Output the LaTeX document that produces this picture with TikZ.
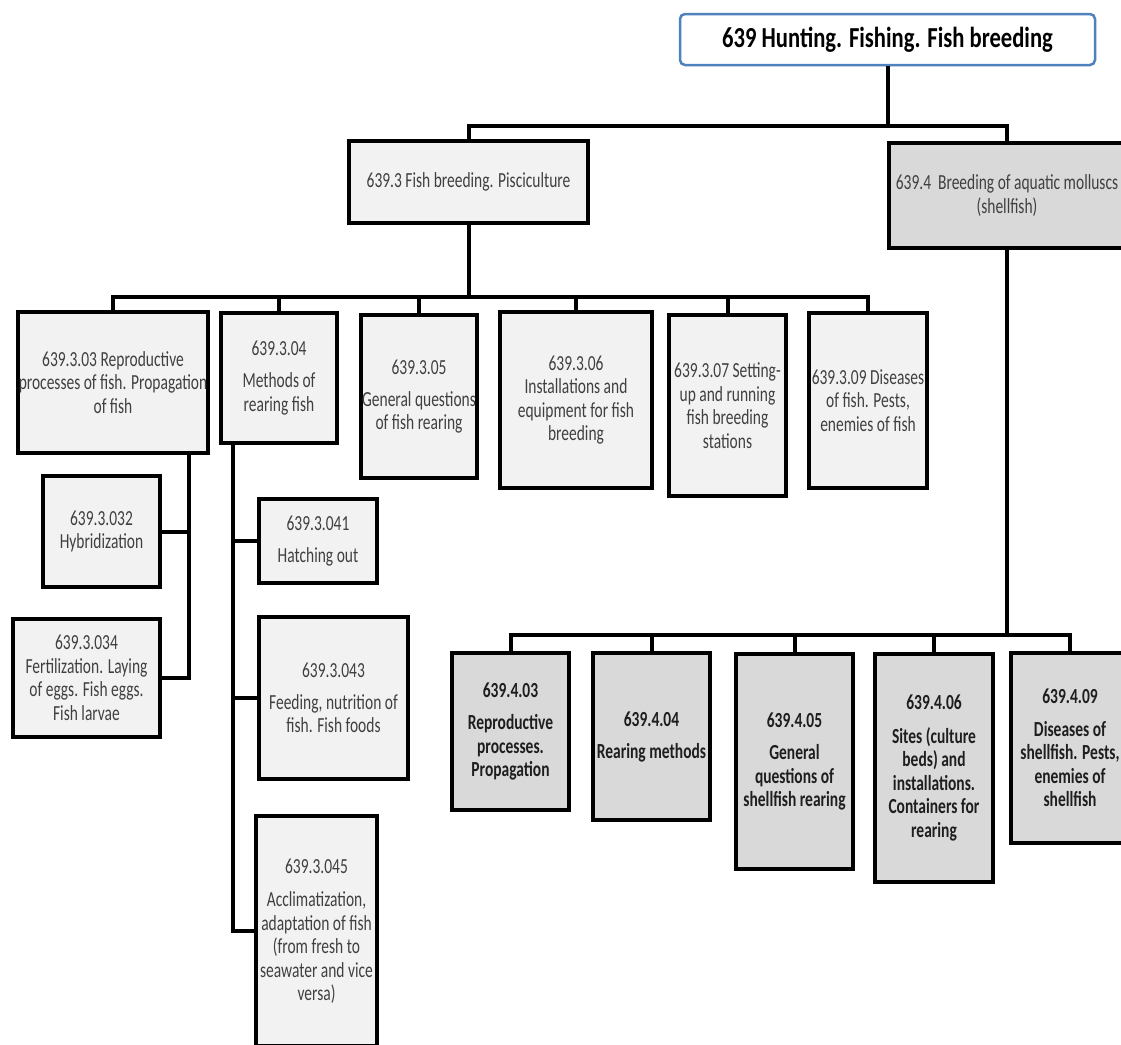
\documentclass[tikz,border=0pt]{standalone}
\usepackage{fontspec}
\setmainfont{Carlito}[FakeStretch=0.72]
\newfontfamily\rootfont{Carlito}[FakeStretch=0.78]
\definecolor{lightfill}{HTML}{F2F2F2}
\definecolor{darkfill}{HTML}{D9D9D9}
\definecolor{txtgray}{HTML}{404040}
\definecolor{txtdark}{HTML}{1E1E1E}
\definecolor{rootblue}{HTML}{4F81BD}
\begin{document}
\begin{tikzpicture}[x=1pt,y=-1pt,
  box/.style={draw=black,line width=4pt,fill=lightfill,inner sep=0pt,align=center,text=txtgray,font=\fontsize{21.5}{23.5}\selectfont},
  sbox/.style={box,fill=darkfill,text=txtdark,font=\bfseries\fontsize{21.5}{23.5}\selectfont},
  rootbox/.style={draw=rootblue,line width=2.5pt,fill=white,rounded corners=5pt,inner sep=0pt,text=black,font=\rootfont\bfseries\fontsize{29}{32}\selectfont},
  conn/.style={draw=black,line width=4pt}]
\useasboundingbox (0,0) rectangle (1121,1044);
\clip (0,0) rectangle (1121,1044);
\fill[white] (0,0) rectangle (1121,1044);

% root and level 1
\node[rootbox,minimum width=415pt,minimum height=51pt] (root) at (887.5,39.5) {639 Hunting. Fishing. Fish breeding};
\node[box,minimum width=239pt,minimum height=82pt] (n3) at (468.5,182) {639.3 Fish breeding. Pisciculture};
\node[box,fill=darkfill,minimum width=236pt,minimum height=105pt] (n4) at (1007,195.5) {639.4\ \ Breeding of aquatic molluscs\\(shellfish)};

% fish level 2
\node[box,minimum width=190pt,minimum height=141pt] (a1) at (113,382.5) {639.3.03 Reproductive\\processes of fish. Propagation\\of fish};
\node[box,minimum width=116pt,minimum height=130pt] (a2) at (279,378) {639.3.04\\[8.5pt]Methods of\\rearing fish};
\node[box,minimum width=116pt,minimum height=163pt] (a3) at (419,396.5) {639.3.05\\[8.5pt]General questions\\of fish rearing};
\node[box,minimum width=152pt,minimum height=176pt] (a4) at (576,400) {639.3.06\\Installations and\\equipment for fish\\breeding};
\node[box,minimum width=117pt,minimum height=181pt] (a5) at (727.5,405.5) {639.3.07 Setting-\\up and running\\fish breeding\\stations};
\node[box,minimum width=118pt,minimum height=175pt] (a6) at (868,400.5) {639.3.09 Diseases\\of fish. Pests,\\enemies of fish};

% fish level 3
\node[box,minimum width=117pt,minimum height=111pt] (s32) at (101.5,531.5) {639.3.032\\Hybridization};
\node[box,minimum width=147pt,minimum height=118pt] (s34) at (86.5,678) {639.3.034\\Fertilization. Laying\\of eggs. Fish eggs.\\Fish larvae};
\node[box,minimum width=118pt,minimum height=84pt] (s41) at (318,541) {639.3.041\\[8.5pt]Hatching out};
\node[box,minimum width=149pt,minimum height=162pt] (s43) at (333.5,698) {639.3.043\\[8.5pt]Feeding, nutrition of\\fish. Fish foods};
\node[box,minimum width=121pt,minimum height=230pt] (s45) at (316.5,931) {639.3.045\\[10pt]Acclimatization,\\adaptation of fish\\(from fresh to\\seawater and vice\\versa)};

% shellfish level 2
\node[sbox,minimum width=117pt,minimum height=157pt] (b1) at (510.5,731.5) {639.4.03\\[8.5pt]Reproductive\\processes.\\Propagation};
\node[sbox,minimum width=117pt,minimum height=167pt] (b2) at (651.5,736.5) {639.4.04\\[8.5pt]Rearing methods};
\node[sbox,minimum width=117pt,minimum height=215pt] (b3) at (794.5,761.5) {639.4.05\\[9pt]General\\questions of\\shellfish rearing};
\node[sbox,minimum width=118pt,minimum height=228pt] (b4) at (934,768) {639.4.06\\[10pt]Sites (culture\\beds) and\\installations.\\Containers for\\rearing};
\node[sbox,minimum width=118pt,minimum height=190pt] (b5) at (1070,748) {639.4.09\\[9pt]Diseases of\\shellfish. Pests,\\enemies of\\shellfish};

% junctions
\coordinate (j0) at (887.5,126);
\coordinate (j1) at (468.5,297);
\coordinate (j2) at (1007,635);
\coordinate (t1) at (189,453);
\coordinate (t2) at (233,443);

% connectors
\draw[conn] (root.south) -- (j0);
\draw[conn] (j0) -| (n3.north);
\draw[conn] (j0) -| (n4.north);

\draw[conn] (n3.south) -- (j1);
\foreach \c in {a1,a2,a3,a4,a5,a6} {\draw[conn] (j1) -| (\c.north);}

\draw[conn] (t1) |- (s34.east);
\draw[conn] (t1 |- s32.east) -- (s32.east);

\draw[conn] (t2) |- (s45.west);
\draw[conn] (t2 |- s41.west) -- (s41.west);
\draw[conn] (t2 |- s43.west) -- (s43.west);

\draw[conn] (n4.south) -- (j2);
\foreach \c in {b1,b2,b3,b4,b5} {\draw[conn] (j2) -| (\c.north);}
\end{tikzpicture}
\end{document}
